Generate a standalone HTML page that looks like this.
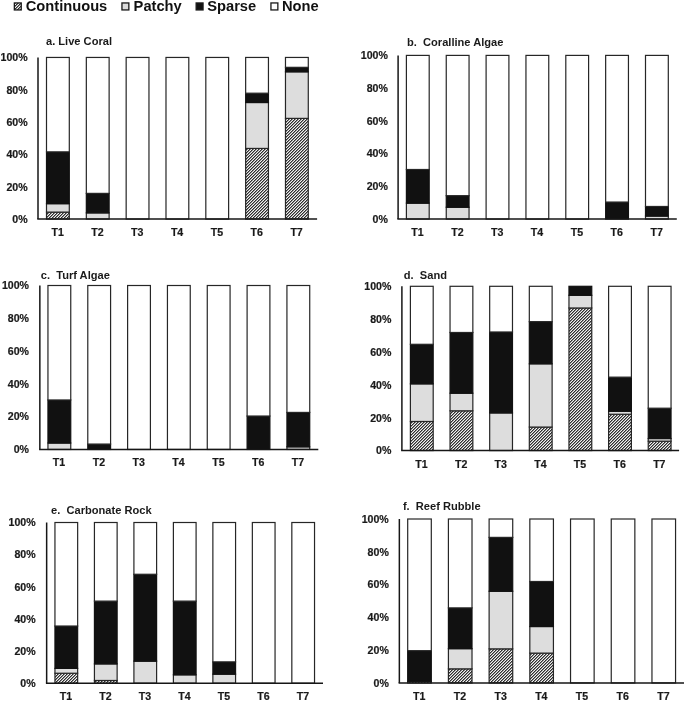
<!DOCTYPE html>
<html><head><meta charset="utf-8"><title>Benthic cover charts</title>
<style>
html,body{margin:0;padding:0;background:#fff;}
body{width:685px;height:702px;overflow:hidden;}
svg{display:block;font-family:"Liberation Sans", sans-serif;will-change:transform;}
</style></head>
<body>
<svg width="685" height="702" viewBox="0 0 685 702">
<defs><pattern id="h" patternUnits="userSpaceOnUse" width="3" height="3" shape-rendering="crispEdges"><rect x="0" y="0" width="1" height="1" fill="#8c8c8c"/><rect x="1" y="0" width="1" height="1" fill="#f2f2f2"/><rect x="2" y="0" width="1" height="1" fill="#2e2e2e"/><rect x="0" y="1" width="1" height="1" fill="#f2f2f2"/><rect x="1" y="1" width="1" height="1" fill="#2e2e2e"/><rect x="2" y="1" width="1" height="1" fill="#8c8c8c"/><rect x="0" y="2" width="1" height="1" fill="#2e2e2e"/><rect x="1" y="2" width="1" height="1" fill="#8c8c8c"/><rect x="2" y="2" width="1" height="1" fill="#f2f2f2"/></pattern></defs>
<rect width="685" height="702" fill="#fff"/>
<rect x="46.50" y="212.10" width="22.80" height="6.95" fill="url(#h)" stroke="#262626" stroke-width="1.2"/>
<rect x="46.50" y="203.67" width="22.80" height="8.43" fill="#dddddd" stroke="#262626" stroke-width="1.2"/>
<rect x="46.50" y="151.85" width="22.80" height="51.82" fill="#111111" stroke="#111111" stroke-width="1.2"/>
<rect x="46.50" y="57.45" width="22.80" height="94.40" fill="#ffffff" stroke="#262626" stroke-width="1.2"/>
<rect x="86.33" y="212.88" width="22.80" height="6.17" fill="#dddddd" stroke="#262626" stroke-width="1.2"/>
<rect x="86.33" y="193.38" width="22.80" height="19.50" fill="#111111" stroke="#111111" stroke-width="1.2"/>
<rect x="86.33" y="57.45" width="22.80" height="135.93" fill="#ffffff" stroke="#262626" stroke-width="1.2"/>
<rect x="126.16" y="57.45" width="22.80" height="161.60" fill="#ffffff" stroke="#262626" stroke-width="1.2"/>
<rect x="165.99" y="57.45" width="22.80" height="161.60" fill="#ffffff" stroke="#262626" stroke-width="1.2"/>
<rect x="205.82" y="57.45" width="22.80" height="161.60" fill="#ffffff" stroke="#262626" stroke-width="1.2"/>
<rect x="245.65" y="148.43" width="22.80" height="70.62" fill="url(#h)" stroke="#262626" stroke-width="1.2"/>
<rect x="245.65" y="102.51" width="22.80" height="45.92" fill="#dddddd" stroke="#262626" stroke-width="1.2"/>
<rect x="245.65" y="93.19" width="22.80" height="9.32" fill="#111111" stroke="#111111" stroke-width="1.2"/>
<rect x="245.65" y="57.45" width="22.80" height="35.74" fill="#ffffff" stroke="#262626" stroke-width="1.2"/>
<rect x="285.48" y="118.37" width="22.80" height="100.68" fill="url(#h)" stroke="#262626" stroke-width="1.2"/>
<rect x="285.48" y="71.81" width="22.80" height="46.57" fill="#dddddd" stroke="#262626" stroke-width="1.2"/>
<rect x="285.48" y="67.33" width="22.80" height="4.47" fill="#111111" stroke="#111111" stroke-width="1.2"/>
<rect x="285.48" y="57.45" width="22.80" height="9.88" fill="#ffffff" stroke="#262626" stroke-width="1.2"/>
<line x1="38.00" y1="57.45" x2="38.00" y2="219.05" stroke="#161616" stroke-width="1.5"/>
<line x1="37.25" y1="219.05" x2="317.10" y2="219.05" stroke="#161616" stroke-width="1.5"/>
<text x="27.60" y="222.87" text-anchor="end" font-size="10.6" font-weight="bold" fill="#1a1a1a" stroke="#1a1a1a" stroke-width="0.2">0%</text>
<text x="27.60" y="190.55" text-anchor="end" font-size="10.6" font-weight="bold" fill="#1a1a1a" stroke="#1a1a1a" stroke-width="0.2">20%</text>
<text x="27.60" y="158.23" text-anchor="end" font-size="10.6" font-weight="bold" fill="#1a1a1a" stroke="#1a1a1a" stroke-width="0.2">40%</text>
<text x="27.60" y="125.91" text-anchor="end" font-size="10.6" font-weight="bold" fill="#1a1a1a" stroke="#1a1a1a" stroke-width="0.2">60%</text>
<text x="27.60" y="93.59" text-anchor="end" font-size="10.6" font-weight="bold" fill="#1a1a1a" stroke="#1a1a1a" stroke-width="0.2">80%</text>
<text x="27.60" y="61.27" text-anchor="end" font-size="10.6" font-weight="bold" fill="#1a1a1a" stroke="#1a1a1a" stroke-width="0.2">100%</text>
<text x="57.60" y="236.05" text-anchor="middle" font-size="10.6" font-weight="bold" fill="#1a1a1a" stroke="#1a1a1a" stroke-width="0.2">T1</text>
<text x="97.43" y="236.05" text-anchor="middle" font-size="10.6" font-weight="bold" fill="#1a1a1a" stroke="#1a1a1a" stroke-width="0.2">T2</text>
<text x="137.26" y="236.05" text-anchor="middle" font-size="10.6" font-weight="bold" fill="#1a1a1a" stroke="#1a1a1a" stroke-width="0.2">T3</text>
<text x="177.09" y="236.05" text-anchor="middle" font-size="10.6" font-weight="bold" fill="#1a1a1a" stroke="#1a1a1a" stroke-width="0.2">T4</text>
<text x="216.92" y="236.05" text-anchor="middle" font-size="10.6" font-weight="bold" fill="#1a1a1a" stroke="#1a1a1a" stroke-width="0.2">T5</text>
<text x="256.75" y="236.05" text-anchor="middle" font-size="10.6" font-weight="bold" fill="#1a1a1a" stroke="#1a1a1a" stroke-width="0.2">T6</text>
<text x="296.58" y="236.05" text-anchor="middle" font-size="10.6" font-weight="bold" fill="#1a1a1a" stroke="#1a1a1a" stroke-width="0.2">T7</text>
<text x="46.00" y="44.90" font-size="11.1" font-weight="bold" fill="#1a1a1a" xml:space="preserve">a. Live Coral</text>
<rect x="406.40" y="203.15" width="22.80" height="15.90" fill="#dddddd" stroke="#262626" stroke-width="1.2"/>
<rect x="406.40" y="169.49" width="22.80" height="33.67" fill="#111111" stroke="#111111" stroke-width="1.2"/>
<rect x="406.40" y="55.40" width="22.80" height="114.09" fill="#ffffff" stroke="#262626" stroke-width="1.2"/>
<rect x="446.25" y="207.24" width="22.80" height="11.81" fill="#dddddd" stroke="#262626" stroke-width="1.2"/>
<rect x="446.25" y="195.67" width="22.80" height="11.57" fill="#111111" stroke="#111111" stroke-width="1.2"/>
<rect x="446.25" y="55.40" width="22.80" height="140.27" fill="#ffffff" stroke="#262626" stroke-width="1.2"/>
<rect x="486.10" y="55.40" width="22.80" height="163.65" fill="#ffffff" stroke="#262626" stroke-width="1.2"/>
<rect x="525.95" y="55.40" width="22.80" height="163.65" fill="#ffffff" stroke="#262626" stroke-width="1.2"/>
<rect x="565.80" y="55.40" width="22.80" height="163.65" fill="#ffffff" stroke="#262626" stroke-width="1.2"/>
<rect x="605.65" y="202.05" width="22.80" height="17.00" fill="#111111" stroke="#111111" stroke-width="1.2"/>
<rect x="605.65" y="55.40" width="22.80" height="146.65" fill="#ffffff" stroke="#262626" stroke-width="1.2"/>
<rect x="645.50" y="216.08" width="22.80" height="2.97" fill="#dddddd" stroke="#262626" stroke-width="1.2"/>
<rect x="645.50" y="206.47" width="22.80" height="9.61" fill="#111111" stroke="#111111" stroke-width="1.2"/>
<rect x="645.50" y="55.40" width="22.80" height="151.07" fill="#ffffff" stroke="#262626" stroke-width="1.2"/>
<line x1="398.10" y1="55.40" x2="398.10" y2="219.05" stroke="#161616" stroke-width="1.5"/>
<line x1="397.35" y1="219.05" x2="676.80" y2="219.05" stroke="#161616" stroke-width="1.5"/>
<text x="387.90" y="222.87" text-anchor="end" font-size="10.6" font-weight="bold" fill="#1a1a1a" stroke="#1a1a1a" stroke-width="0.2">0%</text>
<text x="387.90" y="190.14" text-anchor="end" font-size="10.6" font-weight="bold" fill="#1a1a1a" stroke="#1a1a1a" stroke-width="0.2">20%</text>
<text x="387.90" y="157.41" text-anchor="end" font-size="10.6" font-weight="bold" fill="#1a1a1a" stroke="#1a1a1a" stroke-width="0.2">40%</text>
<text x="387.90" y="124.68" text-anchor="end" font-size="10.6" font-weight="bold" fill="#1a1a1a" stroke="#1a1a1a" stroke-width="0.2">60%</text>
<text x="387.90" y="91.95" text-anchor="end" font-size="10.6" font-weight="bold" fill="#1a1a1a" stroke="#1a1a1a" stroke-width="0.2">80%</text>
<text x="387.90" y="59.22" text-anchor="end" font-size="10.6" font-weight="bold" fill="#1a1a1a" stroke="#1a1a1a" stroke-width="0.2">100%</text>
<text x="417.50" y="236.05" text-anchor="middle" font-size="10.6" font-weight="bold" fill="#1a1a1a" stroke="#1a1a1a" stroke-width="0.2">T1</text>
<text x="457.35" y="236.05" text-anchor="middle" font-size="10.6" font-weight="bold" fill="#1a1a1a" stroke="#1a1a1a" stroke-width="0.2">T2</text>
<text x="497.20" y="236.05" text-anchor="middle" font-size="10.6" font-weight="bold" fill="#1a1a1a" stroke="#1a1a1a" stroke-width="0.2">T3</text>
<text x="537.05" y="236.05" text-anchor="middle" font-size="10.6" font-weight="bold" fill="#1a1a1a" stroke="#1a1a1a" stroke-width="0.2">T4</text>
<text x="576.90" y="236.05" text-anchor="middle" font-size="10.6" font-weight="bold" fill="#1a1a1a" stroke="#1a1a1a" stroke-width="0.2">T5</text>
<text x="616.75" y="236.05" text-anchor="middle" font-size="10.6" font-weight="bold" fill="#1a1a1a" stroke="#1a1a1a" stroke-width="0.2">T6</text>
<text x="656.60" y="236.05" text-anchor="middle" font-size="10.6" font-weight="bold" fill="#1a1a1a" stroke="#1a1a1a" stroke-width="0.2">T7</text>
<text x="407.00" y="45.80" font-size="11.1" font-weight="bold" fill="#1a1a1a" xml:space="preserve">b.  Coralline Algae</text>
<rect x="47.95" y="443.03" width="22.80" height="6.42" fill="#dddddd" stroke="#262626" stroke-width="1.2"/>
<rect x="47.95" y="399.96" width="22.80" height="43.07" fill="#111111" stroke="#111111" stroke-width="1.2"/>
<rect x="47.95" y="285.50" width="22.80" height="114.46" fill="#ffffff" stroke="#262626" stroke-width="1.2"/>
<rect x="87.78" y="444.06" width="22.80" height="5.39" fill="#111111" stroke="#111111" stroke-width="1.2"/>
<rect x="87.78" y="285.50" width="22.80" height="158.56" fill="#ffffff" stroke="#262626" stroke-width="1.2"/>
<rect x="127.61" y="285.50" width="22.80" height="163.95" fill="#ffffff" stroke="#262626" stroke-width="1.2"/>
<rect x="167.44" y="285.50" width="22.80" height="163.95" fill="#ffffff" stroke="#262626" stroke-width="1.2"/>
<rect x="207.27" y="285.50" width="22.80" height="163.95" fill="#ffffff" stroke="#262626" stroke-width="1.2"/>
<rect x="247.10" y="416.03" width="22.80" height="33.42" fill="#111111" stroke="#111111" stroke-width="1.2"/>
<rect x="247.10" y="285.50" width="22.80" height="130.53" fill="#ffffff" stroke="#262626" stroke-width="1.2"/>
<rect x="286.93" y="446.80" width="22.80" height="2.65" fill="#dddddd" stroke="#262626" stroke-width="1.2"/>
<rect x="286.93" y="412.42" width="22.80" height="34.39" fill="#111111" stroke="#111111" stroke-width="1.2"/>
<rect x="286.93" y="285.50" width="22.80" height="126.92" fill="#ffffff" stroke="#262626" stroke-width="1.2"/>
<line x1="39.85" y1="285.50" x2="39.85" y2="449.45" stroke="#161616" stroke-width="1.5"/>
<line x1="39.10" y1="449.45" x2="318.30" y2="449.45" stroke="#161616" stroke-width="1.5"/>
<text x="29.00" y="453.27" text-anchor="end" font-size="10.6" font-weight="bold" fill="#1a1a1a" stroke="#1a1a1a" stroke-width="0.2">0%</text>
<text x="29.00" y="420.48" text-anchor="end" font-size="10.6" font-weight="bold" fill="#1a1a1a" stroke="#1a1a1a" stroke-width="0.2">20%</text>
<text x="29.00" y="387.69" text-anchor="end" font-size="10.6" font-weight="bold" fill="#1a1a1a" stroke="#1a1a1a" stroke-width="0.2">40%</text>
<text x="29.00" y="354.90" text-anchor="end" font-size="10.6" font-weight="bold" fill="#1a1a1a" stroke="#1a1a1a" stroke-width="0.2">60%</text>
<text x="29.00" y="322.11" text-anchor="end" font-size="10.6" font-weight="bold" fill="#1a1a1a" stroke="#1a1a1a" stroke-width="0.2">80%</text>
<text x="29.00" y="289.32" text-anchor="end" font-size="10.6" font-weight="bold" fill="#1a1a1a" stroke="#1a1a1a" stroke-width="0.2">100%</text>
<text x="59.05" y="466.45" text-anchor="middle" font-size="10.6" font-weight="bold" fill="#1a1a1a" stroke="#1a1a1a" stroke-width="0.2">T1</text>
<text x="98.88" y="466.45" text-anchor="middle" font-size="10.6" font-weight="bold" fill="#1a1a1a" stroke="#1a1a1a" stroke-width="0.2">T2</text>
<text x="138.71" y="466.45" text-anchor="middle" font-size="10.6" font-weight="bold" fill="#1a1a1a" stroke="#1a1a1a" stroke-width="0.2">T3</text>
<text x="178.54" y="466.45" text-anchor="middle" font-size="10.6" font-weight="bold" fill="#1a1a1a" stroke="#1a1a1a" stroke-width="0.2">T4</text>
<text x="218.37" y="466.45" text-anchor="middle" font-size="10.6" font-weight="bold" fill="#1a1a1a" stroke="#1a1a1a" stroke-width="0.2">T5</text>
<text x="258.20" y="466.45" text-anchor="middle" font-size="10.6" font-weight="bold" fill="#1a1a1a" stroke="#1a1a1a" stroke-width="0.2">T6</text>
<text x="298.03" y="466.45" text-anchor="middle" font-size="10.6" font-weight="bold" fill="#1a1a1a" stroke="#1a1a1a" stroke-width="0.2">T7</text>
<text x="40.80" y="279.20" font-size="11.1" font-weight="bold" fill="#1a1a1a" xml:space="preserve">c.  Turf Algae</text>
<rect x="410.40" y="421.48" width="22.80" height="29.07" fill="url(#h)" stroke="#262626" stroke-width="1.2"/>
<rect x="410.40" y="383.84" width="22.80" height="37.63" fill="#dddddd" stroke="#262626" stroke-width="1.2"/>
<rect x="410.40" y="344.30" width="22.80" height="39.54" fill="#111111" stroke="#111111" stroke-width="1.2"/>
<rect x="410.40" y="286.30" width="22.80" height="58.00" fill="#ffffff" stroke="#262626" stroke-width="1.2"/>
<rect x="450.04" y="410.80" width="22.80" height="39.75" fill="url(#h)" stroke="#262626" stroke-width="1.2"/>
<rect x="450.04" y="393.21" width="22.80" height="17.60" fill="#dddddd" stroke="#262626" stroke-width="1.2"/>
<rect x="450.04" y="332.48" width="22.80" height="60.73" fill="#111111" stroke="#111111" stroke-width="1.2"/>
<rect x="450.04" y="286.30" width="22.80" height="46.18" fill="#ffffff" stroke="#262626" stroke-width="1.2"/>
<rect x="489.68" y="412.92" width="22.80" height="37.63" fill="#dddddd" stroke="#262626" stroke-width="1.2"/>
<rect x="489.68" y="331.98" width="22.80" height="80.93" fill="#111111" stroke="#111111" stroke-width="1.2"/>
<rect x="489.68" y="286.30" width="22.80" height="45.68" fill="#ffffff" stroke="#262626" stroke-width="1.2"/>
<rect x="529.32" y="427.06" width="22.80" height="23.49" fill="url(#h)" stroke="#262626" stroke-width="1.2"/>
<rect x="529.32" y="363.80" width="22.80" height="63.26" fill="#dddddd" stroke="#262626" stroke-width="1.2"/>
<rect x="529.32" y="321.64" width="22.80" height="42.17" fill="#111111" stroke="#111111" stroke-width="1.2"/>
<rect x="529.32" y="286.30" width="22.80" height="35.34" fill="#ffffff" stroke="#262626" stroke-width="1.2"/>
<rect x="568.96" y="307.98" width="22.80" height="142.57" fill="url(#h)" stroke="#262626" stroke-width="1.2"/>
<rect x="568.96" y="295.31" width="22.80" height="12.67" fill="#dddddd" stroke="#262626" stroke-width="1.2"/>
<rect x="568.96" y="286.30" width="22.80" height="9.01" fill="#111111" stroke="#111111" stroke-width="1.2"/>
<rect x="608.60" y="414.25" width="22.80" height="36.30" fill="url(#h)" stroke="#262626" stroke-width="1.2"/>
<rect x="608.60" y="411.27" width="22.80" height="2.98" fill="#dddddd" stroke="#262626" stroke-width="1.2"/>
<rect x="608.60" y="377.15" width="22.80" height="34.12" fill="#111111" stroke="#111111" stroke-width="1.2"/>
<rect x="608.60" y="286.30" width="22.80" height="90.85" fill="#ffffff" stroke="#262626" stroke-width="1.2"/>
<rect x="648.24" y="441.19" width="22.80" height="9.36" fill="url(#h)" stroke="#262626" stroke-width="1.2"/>
<rect x="648.24" y="438.54" width="22.80" height="2.65" fill="#dddddd" stroke="#262626" stroke-width="1.2"/>
<rect x="648.24" y="408.20" width="22.80" height="30.34" fill="#111111" stroke="#111111" stroke-width="1.2"/>
<rect x="648.24" y="286.30" width="22.80" height="121.90" fill="#ffffff" stroke="#262626" stroke-width="1.2"/>
<line x1="401.90" y1="286.30" x2="401.90" y2="450.55" stroke="#161616" stroke-width="1.5"/>
<line x1="401.15" y1="450.55" x2="679.10" y2="450.55" stroke="#161616" stroke-width="1.5"/>
<text x="391.40" y="454.37" text-anchor="end" font-size="10.6" font-weight="bold" fill="#1a1a1a" stroke="#1a1a1a" stroke-width="0.2">0%</text>
<text x="391.40" y="421.52" text-anchor="end" font-size="10.6" font-weight="bold" fill="#1a1a1a" stroke="#1a1a1a" stroke-width="0.2">20%</text>
<text x="391.40" y="388.67" text-anchor="end" font-size="10.6" font-weight="bold" fill="#1a1a1a" stroke="#1a1a1a" stroke-width="0.2">40%</text>
<text x="391.40" y="355.82" text-anchor="end" font-size="10.6" font-weight="bold" fill="#1a1a1a" stroke="#1a1a1a" stroke-width="0.2">60%</text>
<text x="391.40" y="322.97" text-anchor="end" font-size="10.6" font-weight="bold" fill="#1a1a1a" stroke="#1a1a1a" stroke-width="0.2">80%</text>
<text x="391.40" y="290.12" text-anchor="end" font-size="10.6" font-weight="bold" fill="#1a1a1a" stroke="#1a1a1a" stroke-width="0.2">100%</text>
<text x="421.50" y="467.55" text-anchor="middle" font-size="10.6" font-weight="bold" fill="#1a1a1a" stroke="#1a1a1a" stroke-width="0.2">T1</text>
<text x="461.14" y="467.55" text-anchor="middle" font-size="10.6" font-weight="bold" fill="#1a1a1a" stroke="#1a1a1a" stroke-width="0.2">T2</text>
<text x="500.78" y="467.55" text-anchor="middle" font-size="10.6" font-weight="bold" fill="#1a1a1a" stroke="#1a1a1a" stroke-width="0.2">T3</text>
<text x="540.42" y="467.55" text-anchor="middle" font-size="10.6" font-weight="bold" fill="#1a1a1a" stroke="#1a1a1a" stroke-width="0.2">T4</text>
<text x="580.06" y="467.55" text-anchor="middle" font-size="10.6" font-weight="bold" fill="#1a1a1a" stroke="#1a1a1a" stroke-width="0.2">T5</text>
<text x="619.70" y="467.55" text-anchor="middle" font-size="10.6" font-weight="bold" fill="#1a1a1a" stroke="#1a1a1a" stroke-width="0.2">T6</text>
<text x="659.34" y="467.55" text-anchor="middle" font-size="10.6" font-weight="bold" fill="#1a1a1a" stroke="#1a1a1a" stroke-width="0.2">T7</text>
<text x="403.80" y="279.20" font-size="11.1" font-weight="bold" fill="#1a1a1a" xml:space="preserve">d.  Sand</text>
<rect x="54.95" y="673.24" width="22.70" height="9.96" fill="url(#h)" stroke="#262626" stroke-width="1.2"/>
<rect x="54.95" y="668.39" width="22.70" height="4.85" fill="#dddddd" stroke="#262626" stroke-width="1.2"/>
<rect x="54.95" y="626.02" width="22.70" height="42.37" fill="#111111" stroke="#111111" stroke-width="1.2"/>
<rect x="54.95" y="522.50" width="22.70" height="103.52" fill="#ffffff" stroke="#262626" stroke-width="1.2"/>
<rect x="94.43" y="680.47" width="22.70" height="2.73" fill="url(#h)" stroke="#262626" stroke-width="1.2"/>
<rect x="94.43" y="663.89" width="22.70" height="16.58" fill="#dddddd" stroke="#262626" stroke-width="1.2"/>
<rect x="94.43" y="601.11" width="22.70" height="62.78" fill="#111111" stroke="#111111" stroke-width="1.2"/>
<rect x="94.43" y="522.50" width="22.70" height="78.61" fill="#ffffff" stroke="#262626" stroke-width="1.2"/>
<rect x="133.91" y="661.16" width="22.70" height="22.04" fill="#dddddd" stroke="#262626" stroke-width="1.2"/>
<rect x="133.91" y="574.27" width="22.70" height="86.88" fill="#111111" stroke="#111111" stroke-width="1.2"/>
<rect x="133.91" y="522.50" width="22.70" height="51.77" fill="#ffffff" stroke="#262626" stroke-width="1.2"/>
<rect x="173.39" y="674.82" width="22.70" height="8.38" fill="#dddddd" stroke="#262626" stroke-width="1.2"/>
<rect x="173.39" y="601.11" width="22.70" height="73.70" fill="#111111" stroke="#111111" stroke-width="1.2"/>
<rect x="173.39" y="522.50" width="22.70" height="78.61" fill="#ffffff" stroke="#262626" stroke-width="1.2"/>
<rect x="212.87" y="674.17" width="22.70" height="9.03" fill="#dddddd" stroke="#262626" stroke-width="1.2"/>
<rect x="212.87" y="661.86" width="22.70" height="12.32" fill="#111111" stroke="#111111" stroke-width="1.2"/>
<rect x="212.87" y="522.50" width="22.70" height="139.36" fill="#ffffff" stroke="#262626" stroke-width="1.2"/>
<rect x="252.35" y="522.50" width="22.70" height="160.70" fill="#ffffff" stroke="#262626" stroke-width="1.2"/>
<rect x="291.83" y="522.50" width="22.70" height="160.70" fill="#ffffff" stroke="#262626" stroke-width="1.2"/>
<line x1="46.65" y1="522.50" x2="46.65" y2="683.20" stroke="#161616" stroke-width="1.5"/>
<line x1="45.90" y1="683.20" x2="323.00" y2="683.20" stroke="#161616" stroke-width="1.5"/>
<text x="35.60" y="687.02" text-anchor="end" font-size="10.6" font-weight="bold" fill="#1a1a1a" stroke="#1a1a1a" stroke-width="0.2">0%</text>
<text x="35.60" y="654.88" text-anchor="end" font-size="10.6" font-weight="bold" fill="#1a1a1a" stroke="#1a1a1a" stroke-width="0.2">20%</text>
<text x="35.60" y="622.74" text-anchor="end" font-size="10.6" font-weight="bold" fill="#1a1a1a" stroke="#1a1a1a" stroke-width="0.2">40%</text>
<text x="35.60" y="590.60" text-anchor="end" font-size="10.6" font-weight="bold" fill="#1a1a1a" stroke="#1a1a1a" stroke-width="0.2">60%</text>
<text x="35.60" y="558.46" text-anchor="end" font-size="10.6" font-weight="bold" fill="#1a1a1a" stroke="#1a1a1a" stroke-width="0.2">80%</text>
<text x="35.60" y="526.32" text-anchor="end" font-size="10.6" font-weight="bold" fill="#1a1a1a" stroke="#1a1a1a" stroke-width="0.2">100%</text>
<text x="66.00" y="700.20" text-anchor="middle" font-size="10.6" font-weight="bold" fill="#1a1a1a" stroke="#1a1a1a" stroke-width="0.2">T1</text>
<text x="105.48" y="700.20" text-anchor="middle" font-size="10.6" font-weight="bold" fill="#1a1a1a" stroke="#1a1a1a" stroke-width="0.2">T2</text>
<text x="144.96" y="700.20" text-anchor="middle" font-size="10.6" font-weight="bold" fill="#1a1a1a" stroke="#1a1a1a" stroke-width="0.2">T3</text>
<text x="184.44" y="700.20" text-anchor="middle" font-size="10.6" font-weight="bold" fill="#1a1a1a" stroke="#1a1a1a" stroke-width="0.2">T4</text>
<text x="223.92" y="700.20" text-anchor="middle" font-size="10.6" font-weight="bold" fill="#1a1a1a" stroke="#1a1a1a" stroke-width="0.2">T5</text>
<text x="263.40" y="700.20" text-anchor="middle" font-size="10.6" font-weight="bold" fill="#1a1a1a" stroke="#1a1a1a" stroke-width="0.2">T6</text>
<text x="302.88" y="700.20" text-anchor="middle" font-size="10.6" font-weight="bold" fill="#1a1a1a" stroke="#1a1a1a" stroke-width="0.2">T7</text>
<text x="51.10" y="513.60" font-size="11.1" font-weight="bold" fill="#1a1a1a" xml:space="preserve">e.  Carbonate Rock</text>
<rect x="407.70" y="681.29" width="23.60" height="1.66" fill="url(#h)" stroke="#262626" stroke-width="1.2"/>
<rect x="407.70" y="650.67" width="23.60" height="30.61" fill="#111111" stroke="#111111" stroke-width="1.2"/>
<rect x="407.70" y="519.00" width="23.60" height="131.67" fill="#ffffff" stroke="#262626" stroke-width="1.2"/>
<rect x="448.41" y="668.85" width="23.60" height="14.10" fill="url(#h)" stroke="#262626" stroke-width="1.2"/>
<rect x="448.41" y="648.66" width="23.60" height="20.19" fill="#dddddd" stroke="#262626" stroke-width="1.2"/>
<rect x="448.41" y="607.88" width="23.60" height="40.78" fill="#111111" stroke="#111111" stroke-width="1.2"/>
<rect x="448.41" y="519.00" width="23.60" height="88.88" fill="#ffffff" stroke="#262626" stroke-width="1.2"/>
<rect x="489.12" y="648.85" width="23.60" height="34.10" fill="url(#h)" stroke="#262626" stroke-width="1.2"/>
<rect x="489.12" y="591.28" width="23.60" height="57.57" fill="#dddddd" stroke="#262626" stroke-width="1.2"/>
<rect x="489.12" y="537.38" width="23.60" height="53.90" fill="#111111" stroke="#111111" stroke-width="1.2"/>
<rect x="489.12" y="519.00" width="23.60" height="18.38" fill="#ffffff" stroke="#262626" stroke-width="1.2"/>
<rect x="529.83" y="653.11" width="23.60" height="29.84" fill="url(#h)" stroke="#262626" stroke-width="1.2"/>
<rect x="529.83" y="626.53" width="23.60" height="26.58" fill="#dddddd" stroke="#262626" stroke-width="1.2"/>
<rect x="529.83" y="581.49" width="23.60" height="45.04" fill="#111111" stroke="#111111" stroke-width="1.2"/>
<rect x="529.83" y="519.00" width="23.60" height="62.49" fill="#ffffff" stroke="#262626" stroke-width="1.2"/>
<rect x="570.54" y="519.00" width="23.60" height="163.95" fill="#ffffff" stroke="#262626" stroke-width="1.2"/>
<rect x="611.25" y="519.00" width="23.60" height="163.95" fill="#ffffff" stroke="#262626" stroke-width="1.2"/>
<rect x="651.96" y="519.00" width="23.60" height="163.95" fill="#ffffff" stroke="#262626" stroke-width="1.2"/>
<line x1="399.35" y1="519.00" x2="399.35" y2="682.95" stroke="#161616" stroke-width="1.5"/>
<line x1="398.60" y1="682.95" x2="684.00" y2="682.95" stroke="#161616" stroke-width="1.5"/>
<text x="388.80" y="686.77" text-anchor="end" font-size="10.6" font-weight="bold" fill="#1a1a1a" stroke="#1a1a1a" stroke-width="0.2">0%</text>
<text x="388.80" y="653.98" text-anchor="end" font-size="10.6" font-weight="bold" fill="#1a1a1a" stroke="#1a1a1a" stroke-width="0.2">20%</text>
<text x="388.80" y="621.19" text-anchor="end" font-size="10.6" font-weight="bold" fill="#1a1a1a" stroke="#1a1a1a" stroke-width="0.2">40%</text>
<text x="388.80" y="588.40" text-anchor="end" font-size="10.6" font-weight="bold" fill="#1a1a1a" stroke="#1a1a1a" stroke-width="0.2">60%</text>
<text x="388.80" y="555.61" text-anchor="end" font-size="10.6" font-weight="bold" fill="#1a1a1a" stroke="#1a1a1a" stroke-width="0.2">80%</text>
<text x="388.80" y="522.82" text-anchor="end" font-size="10.6" font-weight="bold" fill="#1a1a1a" stroke="#1a1a1a" stroke-width="0.2">100%</text>
<text x="419.20" y="699.95" text-anchor="middle" font-size="10.6" font-weight="bold" fill="#1a1a1a" stroke="#1a1a1a" stroke-width="0.2">T1</text>
<text x="459.91" y="699.95" text-anchor="middle" font-size="10.6" font-weight="bold" fill="#1a1a1a" stroke="#1a1a1a" stroke-width="0.2">T2</text>
<text x="500.62" y="699.95" text-anchor="middle" font-size="10.6" font-weight="bold" fill="#1a1a1a" stroke="#1a1a1a" stroke-width="0.2">T3</text>
<text x="541.33" y="699.95" text-anchor="middle" font-size="10.6" font-weight="bold" fill="#1a1a1a" stroke="#1a1a1a" stroke-width="0.2">T4</text>
<text x="582.04" y="699.95" text-anchor="middle" font-size="10.6" font-weight="bold" fill="#1a1a1a" stroke="#1a1a1a" stroke-width="0.2">T5</text>
<text x="622.75" y="699.95" text-anchor="middle" font-size="10.6" font-weight="bold" fill="#1a1a1a" stroke="#1a1a1a" stroke-width="0.2">T6</text>
<text x="663.46" y="699.95" text-anchor="middle" font-size="10.6" font-weight="bold" fill="#1a1a1a" stroke="#1a1a1a" stroke-width="0.2">T7</text>
<text x="402.90" y="510.00" font-size="11.1" font-weight="bold" fill="#1a1a1a" xml:space="preserve">f.  Reef Rubble</text>
<rect x="14.35" y="2.95" width="6.9" height="7.0" fill="url(#h)" stroke="#1a1a1a" stroke-width="1.3"/>
<text transform="translate(25.7,11.3) scale(1,1.0)" x="0" y="0" font-size="14.7" font-weight="bold" fill="#111">Continuous</text>
<rect x="121.95" y="2.95" width="6.9" height="7.0" fill="#dddddd" stroke="#1a1a1a" stroke-width="1.3"/>
<text transform="translate(133.6,11.3) scale(1,1.0)" x="0" y="0" font-size="14.7" font-weight="bold" fill="#111">Patchy</text>
<rect x="196.15" y="2.95" width="6.9" height="7.0" fill="#111111" stroke="#1a1a1a" stroke-width="1.3"/>
<text transform="translate(207.2,11.3) scale(1,1.0)" x="0" y="0" font-size="14.7" font-weight="bold" fill="#111">Sparse</text>
<rect x="270.95" y="2.95" width="6.9" height="7.0" fill="#ffffff" stroke="#1a1a1a" stroke-width="1.3"/>
<text transform="translate(282.0,11.3) scale(1,1.0)" x="0" y="0" font-size="14.7" font-weight="bold" fill="#111">None</text>
</svg>
</body></html>
